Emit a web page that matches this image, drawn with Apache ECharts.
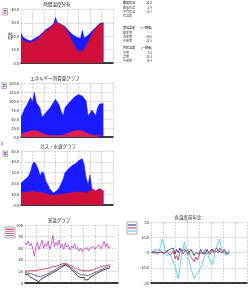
<!DOCTYPE html>
<html>
<head>
<meta charset="UTF-8">
<title></title>
<style>
*{padding:0;margin:0;}
body{background:#fff;}
#main{width:252px;height:289px;}
</style>
</head>
<body>
<div id="main"></div>
<script src="https://cdn.jsdelivr.net/npm/echarts@6/dist/echarts.min.js"></script>
<script>
// 時間温度分布
var tempHigh=[22.4,19.5,18.2,17.5,16.8,16.5,17.6,18.3,19.0,19.8,21.0,22.3,23.5,25.0,26.2,27.0,28.1,29.3,34.0,30.2,29.8,29.0,28.0,27.2,26.0,24.0,22.6,21.2,20.0,19.4,18.7,18.4,24.5,18.6,19.5,20.8,22.0,23.8,25.0,26.5,27.6,29.5,30.8,30.2];
var tempLow=[19.5,17.2,16.0,15.4,14.8,15.0,15.8,16.4,17.0,18.2,19.6,21.5,22.8,24.0,25.2,26.0,27.4,28.6,30.5,30.0,29.4,28.6,27.6,26.0,24.0,21.0,18.0,15.5,12.5,10.2,8.5,7.6,9.0,10.5,13.0,15.5,18.8,21.5,23.5,25.8,27.0,28.8,30.2,29.6];
// エネルギー消費量
var energyTotal=[55,52,80,88,85,110,98,125,96,100,80,55,50,68,72,80,88,92,105,110,88,70,60,82,88,95,100,106,112,108,118,122,114,116,100,58,62,75,74,60,82,92,97,93];
var energyHeat=[8,10,12,14,15,17,18,18,17,16,14,12,8,6,5,5,4,4,4,4,4,5,5,7,9,12,14,16,17,18,19,18,17,15,12,9,7,5,5,4,4,4,4,4];
// ガス・水道
var gasUse=[20,22,21,25,27,31,38,40,37,33,27,31,29,22,19,15,13,11,12,14,16,20,24,30,32,34,35,37,38,39,41,42,43,37,25,19,28,15,14,13,14,15,14,13];
var waterUse=[11,11,12,12,12,12,13,13,12,12,12,12,11,11,10,10,9,9,9,9,10,10,10,11,11,11,11,12,12,12,12,12,12,11,11,12,13,15,14,13,14,15,14,13];
// 室温
var roomTemp=[20,20,21,20,21,21,21,22,22,22,23,23,24,24,25,25,26,27,28,29,29,30,31,32,33,34,34,33,32,31,29,28,26,25,24,23,22,21,21,20,21,21,21,22,23,24,25,26,27,28,29,29,30,31,31,31];
var roomHum=[70,66,72,64,68,60,46,62,70,58,66,74,60,68,63,72,58,66,82,62,70,64,74,60,67,58,69,62,66,57,64,60,68,58,62,55,60,54,58,56,61,55,60,57,63,58,62,60,66,59,64,72,62,68,60,63];
var roomDew=[18,17,17,15,16,13,14,11,12,9,11,10,13,12,15,15,18,18,21,21,24,24,27,28,30,31,32,31,30,28,26,23,21,19,17,17,14,13,14,11,13,12,14,14,17,16,19,19,22,22,24,25,27,28,28,29];
var roomOut=[14,12,15,11,13,8,10,5,7,2,6,4,9,7,12,10,15,13,18,17,21,20,24,26,28,30,31,30,28,26,23,20,18,15,12,13,9,7,10,5,8,6,10,9,13,12,16,15,19,18,22,21,24,26,25,27];
// 各温度前年比
var yoyRoom=[0,0,1,0,-1,0,1,0,-1,0,1,0,2,1,3,-1,2,0,3,1,0,2,1,-1,0,2,1,-2,0,1,-1,2,0,1,-1,2,0,1,2,0,1,3,1,2,0,-1,1,0,-1,0];
var yoyDew=[0,0,0,1,0,-1,0,1,0,-1,1,2,-2,-3,1,-4,-2,-5,0,2,-1,1,0,2,-1,-3,-4,-6,-3,-5,-2,0,1,-1,2,0,1,-1,2,3,1,2,0,3,1,0,2,-1,0,1];
var yoyOut=[0,1,-1,2,3,1,4,9,6,1,-2,-3,-1,-4,-6,-9,-13,-17,-10,-2,3,7,2,-3,-6,-11,-14,-17,-16,-14,-12,-10,-8,-4,-1,1,-3,-5,-8,-6,1,4,6,9,3,0,-1,-2,0,-1];

var ticks1=['0.0','10.0','20.0','30.0','40.0'];
var ticks2=['0.0','25.0','50.0','75.0','100.0','125.0','150.0'];
var ticks3=['0.0','10.0','20.0','30.0','40.0','50.0'];
var ticks4=['0','20','40','60','80','100'];
var ticks5=['-20','-10.0','0','10.0','20'];

var infoRows=[
	['最高気温','31.2'],['最低気温','-2.4'],['平均気温','15.7'],['気温差',''],
	['室温設定','(一時間)'],['暖房期','――'],['冷房期','26.0'],['中間期','22.5'],
	['外気温度','(一時間)'],['冬期','5.2'],['夏期','28.3'],['中間期','16.4']
];

var FONT='Noto Sans CJK JP';
var chart=echarts.init(document.getElementById('main'));

function pairs(arr){
	return arr.map(function(v,i){return [i,v];});
}
function xAx(idx,max){
	return {
		type:'value',gridIndex:idx,min:0,max:max,interval:max/8,
		axisLabel:{show:false},axisTick:{show:false},
		axisLine:{onZero:false,lineStyle:{color:'#000',width:1.5}},
		splitLine:{show:true,lineStyle:{color:'#aaa',type:'dashed',width:0.5}}
	};
}
function yAx(idx,min,max,step,ticks){
	return {
		type:'value',gridIndex:idx,min:min,max:max,interval:step,
		axisLine:{show:false},axisTick:{show:false},
		axisLabel:{fontSize:4,color:'#222',margin:2,fontFamily:FONT,formatter:function(v){
			return ticks[Math.round((v-min)/step)];
		}},
		splitLine:{show:true,lineStyle:{color:'#aaa',type:'dashed',width:0.5}}
	};
}
function area(name,idx,data,color){
	return {
		name:name,type:'line',xAxisIndex:idx,yAxisIndex:idx,data:pairs(data),
		symbol:'none',lineStyle:{color:color,width:0.5},
		areaStyle:{color:color,opacity:1},itemStyle:{color:color}
	};
}
function line(name,idx,data,color,w){
	return {
		name:name,type:'line',xAxisIndex:idx,yAxisIndex:idx,data:pairs(data),
		symbol:'none',lineStyle:{color:color,width:w||0.8},itemStyle:{color:color}
	};
}
function txt(x,y,s,size,align,color){
	return {type:'text',x:x,y:y,style:{text:s,fontSize:size,fontFamily:FONT,fill:color||'#222',
		textAlign:align||'left',textVerticalAlign:'middle'}};
}
function legendBox(x,y,w,h,items){
	var els=[{type:'rect',shape:{x:x,y:y,width:w,height:h},style:{fill:'#fff',stroke:'#777',lineWidth:0.6}}];
	var gap=h/(items.length+1);
	items.forEach(function(c,i){
		els.push({type:'line',shape:{x1:x+1,y1:y+gap*(i+1),x2:x+w-1,y2:y+gap*(i+1)},style:{stroke:c,lineWidth:1}});
	});
	return els;
}

var unitLabel=txt(10,36,'温度',4,'center','#222');
unitLabel.rotation=Math.PI/2;

var graphic=[
	txt(57,4,'時間温度分布',4.5,'center'),
	txt(55,78,'エネルギー消費量グラフ',4.5,'center'),
	txt(58,146,'ガス・水道グラフ',4.5,'center'),
	txt(59,220,'室温グラフ',4.5,'center'),
	txt(188,217,'各温度前年比',4.5,'center'),
	txt(1,143,'ε',5,'left','#333'),
	unitLabel
];
graphic=graphic.concat(
	legendBox(3,8.5,4.5,6.5,['#1a1aff','#d0103a']),
	legendBox(2,83,4.5,5.5,['#1a1aff','#e04080']),
	legendBox(3,151,4.5,5.5,['#1a1aff','#d0103a']),
	legendBox(5,227,10,11,['#d0103a','#e070a0','#c040c0','#777']),
	legendBox(127,222,10,12,['#202080','#c02040','#30d0e0'])
);
infoRows.forEach(function(r,i){
	var g=Math.floor(i/4),k=i%4;
	var y=[3,28,48][g]+k*4.4;
	var col=k===0?'#000':'#444';
	graphic.push(txt(123,y,r[0],3,'left',col));
	if(r[1]) graphic.push(txt(152,y,r[1],3,'right',col));
});

var option={
	backgroundColor:'#fff',
	animation:false,
	grid:[
		{left:21,top:9.5,width:92,height:53.5},
		{left:21,top:83,width:92,height:54},
		{left:21,top:151,width:92,height:54},
		{left:25,top:225,width:93,height:58},
		{left:151,top:222,width:96,height:61}
	],
	xAxis:[xAx(0,48),xAx(1,48),xAx(2,48),xAx(3,60),xAx(4,60)],
	yAxis:[
		yAx(0,0,40,10,ticks1),
		yAx(1,0,150,25,ticks2),
		yAx(2,0,50,10,ticks3),
		yAx(3,0,100,20,ticks4),
		yAx(4,-20,20,10,ticks5)
	],
	series:[
		area('最高',0,tempHigh,'#1a1aff'),
		area('最低',0,tempLow,'#d0103a'),
		area('電力',1,energyTotal,'#1a1aff'),
		area('熱',1,energyHeat,'#e02050'),
		area('ガス',2,gasUse,'#1a1aff'),
		area('水道',2,waterUse,'#d0103a'),
		line('湿度',3,roomHum,'#c040c0',0.8),
		line('室温',3,roomTemp,'#c02040',0.8),
		line('露点',3,roomDew,'#404080',0.8),
		line('外気温',3,roomOut,'#111',0.8),
		line('室温比',4,yoyRoom,'#202080',0.8),
		line('露点比',4,yoyDew,'#c02040',0.8),
		line('外気比',4,yoyOut,'#30d0e0',0.8)
	],
	graphic:graphic
};
chart.setOption(option);
</script>
</body>
</html>
